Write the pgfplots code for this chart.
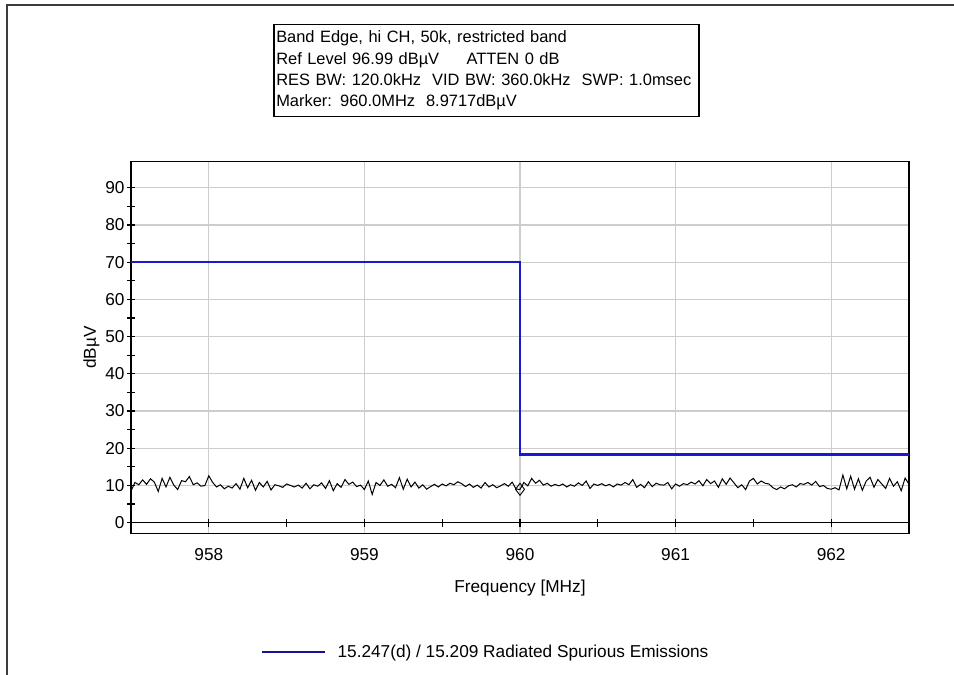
\documentclass[border=0pt]{standalone}
\usepackage{pgfplots}
\pgfplotsset{compat=1.18}
\usepackage{pgfplotstable}
\usepackage{fontspec}
\setmainfont{Liberation Sans}
\definecolor{gridgray}{RGB}{205,205,205}
\definecolor{limblue}{RGB}{25,25,205}
\definecolor{legblue}{RGB}{20,20,140}
\definecolor{framegray}{RGB}{60,60,60}
\newcommand{\fs}{\fontsize{17.3}{20}\selectfont}

\pgfplotstableread{
x y
957.500 8.5
957.525 10.8
957.550 10.2
957.575 11.5
957.600 10.3
957.625 11.8
957.650 10.9
957.675 8.4
957.700 11.9
957.725 9.6
957.750 12.2
957.775 10.1
957.800 8.9
957.825 11.3
957.850 11.0
957.875 12.4
957.900 10.2
957.925 10.7
957.950 9.8
957.975 10.0
958.000 12.6
958.025 10.8
958.050 9.6
958.075 10.2
958.100 9.1
958.125 9.8
958.150 9.3
958.175 10.5
958.200 9.0
958.225 11.9
958.250 9.4
958.275 11.4
958.300 8.7
958.325 10.8
958.350 9.6
958.375 11.1
958.400 8.8
958.425 10.2
958.450 9.9
958.475 9.5
958.500 10.4
958.525 10.0
958.550 9.6
958.575 10.1
958.600 9.3
958.625 10.6
958.650 9.1
958.675 10.2
958.700 9.8
958.725 10.7
958.750 9.2
958.775 11.3
958.800 8.6
958.825 10.5
958.850 9.5
958.875 11.6
958.900 10.3
958.925 10.9
958.950 9.7
958.975 10.1
959.000 8.9
959.025 11.2
959.050 7.6
959.075 10.8
959.100 10.0
959.125 11.5
959.150 9.8
959.175 10.3
959.200 9.4
959.225 12.1
959.250 9.0
959.275 11.7
959.300 9.6
959.325 10.9
959.350 9.3
959.375 10.2
959.400 9.0
959.425 9.7
959.450 10.3
959.475 9.6
959.500 10.4
959.525 9.9
959.550 10.6
959.575 10.2
959.600 11.0
959.625 10.5
959.650 9.7
959.675 10.4
959.700 9.5
959.725 10.1
959.750 9.3
959.775 10.8
959.800 9.6
959.825 10.2
959.850 9.4
959.875 9.9
959.900 10.5
959.925 9.8
959.950 10.9
959.975 9.0
960.000 8.97
960.025 10.8
960.050 9.9
960.075 11.9
960.100 10.6
960.125 11.4
960.150 10.1
960.175 10.6
960.200 9.8
960.225 10.3
960.250 9.9
960.275 10.4
960.300 9.6
960.325 10.2
960.350 9.8
960.375 10.7
960.400 10.0
960.425 11.2
960.450 9.2
960.475 10.4
960.500 10.0
960.525 10.5
960.550 9.9
960.575 10.3
960.600 9.6
960.625 10.4
960.650 10.1
960.675 10.8
960.700 10.2
960.725 11.6
960.750 9.5
960.775 10.3
960.800 9.4
960.825 11.0
960.850 9.7
960.875 10.6
960.900 10.2
960.925 10.1
960.950 10.8
960.975 9.1
961.000 10.4
961.025 9.8
961.050 10.5
961.075 10.2
961.100 10.9
961.125 10.4
961.150 11.3
961.175 9.9
961.200 11.6
961.225 10.5
961.250 11.2
961.275 9.5
961.300 11.8
961.325 10.3
961.350 12.0
961.375 10.7
961.400 9.4
961.425 10.2
961.450 8.9
961.475 11.2
961.500 11.9
961.525 10.4
961.550 11.2
961.575 10.6
961.600 10.4
961.625 9.4
961.650 8.9
961.675 9.6
961.700 9.1
961.725 9.9
961.750 10.2
961.775 9.6
961.800 10.5
961.825 10.3
961.850 10.8
961.875 10.1
961.900 11.1
961.925 9.7
961.950 10.0
961.975 9.2
962.000 9.0
962.025 9.4
962.050 8.8
962.075 12.8
962.100 9.1
962.125 12.5
962.150 9.0
962.175 11.8
962.200 8.7
962.225 11.2
962.250 12.2
962.275 9.5
962.300 11.6
962.325 10.4
962.350 9.2
962.375 11.9
962.400 9.8
962.425 11.0
962.450 8.6
962.475 12.0
962.500 10.3
}\noisetable

\pgfplotstableread{
x y
957.5 70
960.0 70
960.0 18.4
962.5 18.4
}\limittable

\begin{document}
\begin{tikzpicture}
\useasboundingbox (0,0) rectangle (954bp,675bp);
\draw[framegray, line width=2bp] (7bp,0bp) -- (7bp,670bp) -- (954bp,670bp);

\begin{axis}[
  at={(131bp,141.7bp)}, anchor=south west,
  scale only axis, width=778bp, height=371.6bp,
  xmin=957.5, xmax=962.5, ymin=-2.85, ymax=97,
  xtick={958,959,960,961,962},
  xticklabels={958,959,960,961,962},
  ytick={0,10,...,90},
  minor y tick num=1,
  xtick pos=bottom, ytick pos=left,
  tick align=center,
  major tick length=8bp, minor tick length=8bp,
  x tick style={draw=none},
  y tick style={black, line width=1.2bp},
  grid=major,
  major grid style={gridgray, line width=1.3bp},
  axis line style={black, line width=1.4bp},
  font=\fs,
  /pgf/number format/assume math mode=true,
  xticklabel style={yshift=-8bp},
  yticklabel style={xshift=1bp},
  xlabel={Frequency [MHz]},
  ylabel={dBµV},
  xlabel style={yshift=-12bp},
  ylabel style={yshift=-1bp},
  legend style={at={(0.456,-0.319)}, anchor=center, draw=none, fill=none, font=\fs},
  legend cell align=left,
]
\addplot[limblue, line width=2.6bp, forget plot] table[x=x, y=y] {\limittable};
\addplot[black, line width=1bp, forget plot] table[x=x, y=y] {\noisetable};
\addplot[only marks, mark=diamond, mark size=6bp, mark options={black, fill=white, line width=0.9bp}, forget plot] coordinates {(960.0,8.97)};
\addlegendimage{legend image code/.code={\draw[legblue, line width=2.5bp] (0bp,0bp) -- (63bp,0bp);}}
\addlegendentry{\hspace{9bp}15.247(d) / 15.209 Radiated Spurious Emissions}
\end{axis}

\begin{axis}[
  at={(131bp,141.7bp)}, anchor=south west,
  scale only axis, width=778bp, height=371.6bp,
  xmin=957.5, xmax=962.5, ymin=-2.85, ymax=97,
  axis x line=middle, axis y line=none,
  xtick={958,959,960,961,962}, minor x tick num=1,
  xticklabels={},
  tick align=center,
  major tick length=8bp, minor tick length=8bp,
  x tick style={black, line width=1.2bp},
  axis line style={-, black, line width=1.4bp},
]
\addplot[draw=none] coordinates {(958,0)};
\end{axis}

\node[draw=black, line width=1.5bp, anchor=north west, inner xsep=2.5bp, inner ysep=6bp,
      text width=420bp, align=left, font=\fontsize{16.5}{21.5}\selectfont]
  at (273bp,651bp) {Band Edge, hi CH, 50k, restricted band\\
  Ref Level 96.99 dBµV\quad\ \ ATTEN 0 dB\\
  RES BW: 120.0kHz\ \ VID BW: 360.0kHz\ \ SWP: 1.0msec\\
  Marker: 960.0MHz\ \ 8.9717dBµV};
\end{tikzpicture}
\end{document}
